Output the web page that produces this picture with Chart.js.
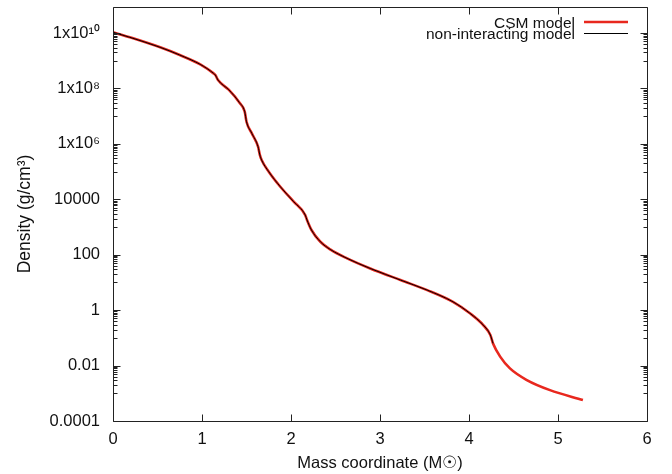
<!DOCTYPE html>
<html><head><meta charset="utf-8">
<script src="https://cdn.jsdelivr.net/npm/chart.js@4.4.1/dist/chart.umd.min.js"></script>
<style>html,body{margin:0;padding:0;background:#fff}canvas{display:block}</style>
</head><body>
<canvas id="c" width="672" height="474"></canvas>
<script>
// ---- data ----
const massCoord = [0, 0.19, 0.53, 0.75, 0.98, 1.13, 1.15, 1.18, 1.30, 1.42, 1.48, 1.50, 1.56, 1.63, 1.65, 1.67, 1.75, 1.88, 2.03, 2.16, 2.18, 2.23, 2.33, 2.44, 2.63, 2.89, 3.23, 3.53, 3.82, 4.01, 4.16, 4.24, 4.27, 4.35, 4.46, 4.65, 4.91, 5.28];
const csmDensity = [1.07e10, 7.0e9, 3.05e9, 1.61e9, 7.4e8, 3.5e8, 3.05e8, 2.0e8, 9.0e7, 3.1e7, 1.45e7, 6.3e6, 2.4e6, 7.9e5, 4.0e5, 2.6e5, 9.9e4, 2.84e4, 8.2e3, 2.7e3, 1.79e3, 780, 294, 156, 74, 32, 12.2, 5.3, 2.0, 0.77, 0.29, 0.126, 0.063, 0.021, 0.0079, 0.0030, 0.0013, 0.00057];
const nonIntMass = [0, 0.19, 0.53, 0.75, 0.98, 1.13, 1.15, 1.18, 1.30, 1.42, 1.48, 1.50, 1.56, 1.63, 1.65, 1.67, 1.75, 1.88, 2.03, 2.16, 2.18, 2.23, 2.33, 2.44, 2.63, 2.89, 3.23, 3.53, 3.82, 4.01, 4.16, 4.24, 4.27];
const nonIntDensity = [1.07e10, 7.0e9, 3.05e9, 1.61e9, 7.4e8, 3.5e8, 3.05e8, 2.0e8, 9.0e7, 3.1e7, 1.45e7, 6.3e6, 2.4e6, 7.9e5, 4.0e5, 2.6e5, 9.9e4, 2.84e4, 8.2e3, 2.7e3, 1.79e3, 780, 294, 156, 74, 32, 12.2, 5.3, 2.0, 0.77, 0.29, 0.126, 0.063];
const seriesNames = ['CSM model', 'non-interacting model'];
const xTickValues = [0, 1, 2, 3, 4, 5, 6];
const yTickValues = [1e-4, 1e-2, 1, 1e2, 1e4, 1e6, 1e8, 1e10];
const yTickLabels = ['0.0001', '0.01', '1', '100', '10000', '1x10\u2076', '1x10\u2078', '1x10\u00b9\u2070'];
const xTitle = 'Mass coordinate (M\u2609)';
const yTitle = 'Density (g/cm\u00b3)';

// minor log ticks (gnuplot style): k*10^m for odd m
const yMinor = [];
for (let m = -3; m <= 9; m += 2) for (let k = 1; k <= 9; k++) yMinor.push(k * Math.pow(10, m));

const FONT = '"Liberation Sans", Arial, Helvetica, sans-serif';
const TXT = '#111';
const RED = '#e8281e';

const frameTicks = {
  id: 'frameTicks',
  afterDatasetsDraw(chart) {
    const ctx = chart.ctx, a = chart.chartArea;
    const xs = chart.scales.x, ys = chart.scales.y;
    ctx.save();
    ctx.strokeStyle = '#222';
    ctx.lineWidth = 1;
    ctx.beginPath();
    const L = Math.round(a.left) + 0.5, R = Math.round(a.right) + 0.5, T = Math.round(a.top) + 0.5, B = Math.round(a.bottom) + 0.5;
    ctx.rect(L, T, R - L, B - T);
    const hline = (y, len) => { const yy = Math.round(y) + 0.5; ctx.moveTo(L, yy); ctx.lineTo(L + len, yy); ctx.moveTo(R, yy); ctx.lineTo(R - len, yy); };
    yTickValues.forEach(v => hline(ys.getPixelForValue(v), 7));
    yMinor.forEach(v => hline(ys.getPixelForValue(v), 4));
    xTickValues.forEach(v => { const xx = Math.round(xs.getPixelForValue(v)) + 0.5; ctx.moveTo(xx, B); ctx.lineTo(xx, B - 7); ctx.moveTo(xx, T); ctx.lineTo(xx, T + 7); });
    ctx.stroke();
    ctx.restore();
  },
  afterDraw(chart) {
    const ctx = chart.ctx;
    ctx.save();
    ctx.font = '15.5px ' + FONT;
    ctx.fillStyle = TXT;
    ctx.textAlign = 'right';
    ctx.textBaseline = 'alphabetic';
    const rows = [{ y: 22, base: 27.5, color: RED, w: 2.5 }, { y: 33.5, base: 38.5, color: '#000', w: 1 }];
    rows.forEach((r, i) => {
      ctx.fillText(seriesNames[i], 575, r.base);
      ctx.strokeStyle = r.color; ctx.lineWidth = r.w;
      ctx.beginPath(); ctx.moveTo(584, r.y); ctx.lineTo(628, r.y); ctx.stroke();
    });
    ctx.restore();
  }
};

new Chart(document.getElementById('c'), {
  type: 'line',
  data: {
    datasets: [
      { label: seriesNames[1], data: nonIntMass.map((m, i) => ({ x: m, y: nonIntDensity[i] })), borderColor: '#000', borderWidth: 1, pointRadius: 0, cubicInterpolationMode: 'monotone', order: 0 },
      { label: seriesNames[0], data: massCoord.map((m, i) => ({ x: m, y: csmDensity[i] })), borderColor: RED, borderWidth: 2.6, pointRadius: 0, cubicInterpolationMode: 'monotone', order: 1 }
    ]
  },
  options: {
    responsive: false,
    animation: false,
    devicePixelRatio: 1,
    layout: { padding: { top: 7, right: 25, left: 0, bottom: 0 } },
    plugins: { legend: { display: false }, tooltip: { enabled: false } },
    scales: {
      x: {
        type: 'linear', min: 0, max: 6,
        afterBuildTicks: s => { s.ticks = xTickValues.map(v => ({ value: v })); },
        afterFit: s => { s.height = 53; s.paddingLeft = 0; s.paddingRight = 0; },
        grid: { display: false, drawTicks: false },
        border: { display: false },
        ticks: { font: { family: FONT, size: 16.5 }, color: TXT, padding: 9, maxRotation: 0, autoSkip: false },
        title: { display: true, text: xTitle, font: { family: FONT, size: 16.5 }, color: TXT, padding: { top: 0, bottom: 1 } }
      },
      y: {
        type: 'logarithmic', min: 1e-4, max: 8.7e10,
        afterBuildTicks: s => { s.ticks = yTickValues.map(v => ({ value: v })); },
        afterFit: s => { s.width = 113; s.paddingTop = 0; s.paddingBottom = 0; },
        grid: { display: false, drawTicks: false },
        border: { display: false },
        ticks: { font: { family: FONT, size: 16.5 }, color: TXT, padding: 13, autoSkip: false,
          callback: (v) => yTickLabels[yTickValues.indexOf(v)] },
        title: { display: true, text: yTitle, font: { family: FONT, size: 17.5 }, color: TXT, padding: { top: 15, bottom: 0 } }
      }
    }
  },
  plugins: [frameTicks]
});
</script>
</body></html>
